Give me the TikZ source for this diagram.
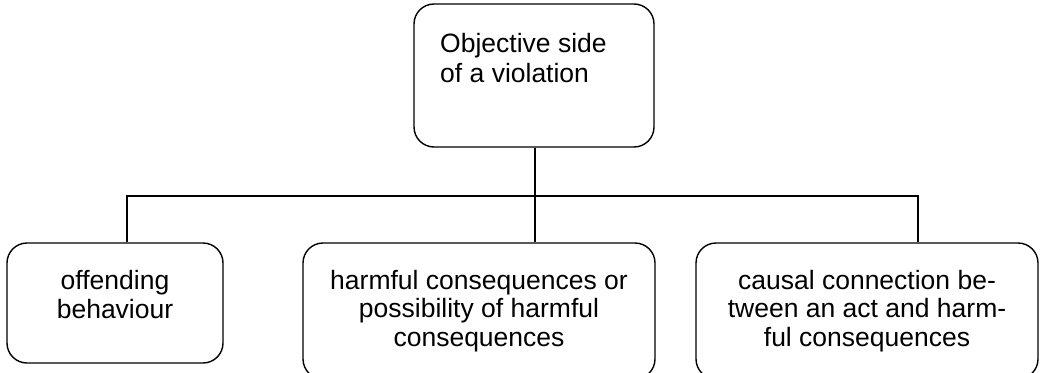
\documentclass[tikz,border=0pt]{standalone}
\usepackage{fontspec}
\setmainfont{Liberation Sans}
\begin{document}
\begin{tikzpicture}[x={(1pt,0)}, y={(0,-1pt)},
  box/.style={draw, line width=1.4pt, rounded corners=20pt, inner sep=0pt,
    align=center, font=\fontsize{26.5}{28.5}\selectfont},
  link/.style={draw, line width=1.4pt}]
  \useasboundingbox (0,0) rectangle (1040,372);

  % parent box with its text set at the top left
  \node[box, minimum width=240pt, minimum height=143pt] (top) at (534,75.5) {};
  \node[anchor=base west, inner sep=0pt, align=left,
    font=\fontsize{26.5}{30}\selectfont] (toptext) at (440,82)
    {Objective side\\of a violation};

  % child boxes
  \node[box, minimum width=216pt, minimum height=120pt, text depth=17pt]
    (left) at (115,303) {offending\\behaviour};
  \node[box, minimum width=352pt, minimum height=136pt] (mid) at (479,311)
    {harmful consequences or\\possibility of harmful\\consequences};
  \node[box, minimum width=342pt, minimum height=136pt] (right) at (867,311)
    {causal connection be-\\tween an act and harm-\\ful consequences};

  % connector tree
  \coordinate (jl) at (127,196);
  \coordinate (jr) at (918,196);
  \coordinate (jm) at (535,196);
  \draw[link] (jm |- top.south) -- (jm |- mid.north);
  \draw[link] (jl |- left.north) -- (jl) -- (jr) -- (jr |- right.north);
\end{tikzpicture}
\end{document}
